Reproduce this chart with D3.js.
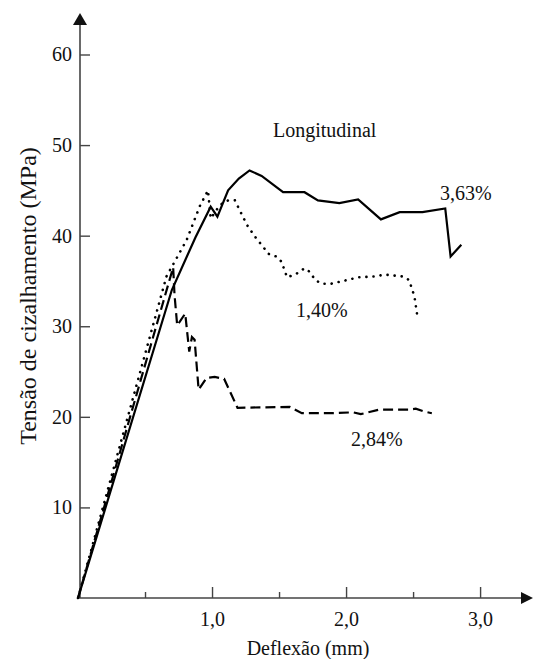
<!DOCTYPE html>
<html>
<head>
<meta charset="utf-8">
<script src="https://cdn.jsdelivr.net/npm/d3@7"></script>
<style>
  body { margin: 0; background: #fff; }
  svg text { font-family: "Times New Roman", Times, "Liberation Serif", Tinos, "Nimbus Roman", "DejaVu Serif", "Noto Serif", serif !important; }
</style>
</head>
<body>
<svg id="chart"></svg>
<script>
// Tick values and labels
const xTicks = [1, 2, 3];
const xTickLabels = ["1,0", "2,0", "3,0"];
const xMinorTicks = [0.5, 1.5, 2.5];
const yTicks = [10, 20, 30, 40, 50, 60];

// 3,63% (solid)
const solidX = [0, 0.70, 0.876, 0.99, 1.04, 1.12, 1.20, 1.28, 1.37, 1.53, 1.69, 1.79, 1.95, 2.09, 2.26, 2.40, 2.57, 2.74, 2.78, 2.86];
const solidY = [0, 34.0, 39.8, 43.2, 42.1, 45.0, 46.3, 47.2, 46.6, 44.8, 44.8, 43.9, 43.6, 44.0, 41.8, 42.6, 42.6, 43.0, 37.7, 39.0];

// 1,40% (dotted)
const dottedX = [0, 0.66, 0.81, 0.91, 0.97, 0.99, 1.06, 1.12, 1.17, 1.20, 1.26, 1.33, 1.38, 1.42, 1.48, 1.52, 1.54, 1.56, 1.63, 1.69, 1.73, 1.77, 1.82, 1.89, 1.95, 2.09, 2.21, 2.29, 2.42, 2.47, 2.49, 2.51, 2.53];
const dottedY = [0, 35.5, 39.5, 43.3, 45.0, 41.9, 43.4, 43.9, 43.9, 43.0, 41.2, 39.7, 38.8, 38.0, 37.7, 37.1, 36.2, 35.4, 35.8, 36.4, 36.0, 35.1, 34.7, 34.7, 34.9, 35.4, 35.5, 35.7, 35.5, 35.1, 34.2, 33.3, 31.3];

// 2,84% (dashed)
const dashedX = [0, 0.71, 0.72, 0.74, 0.80, 0.83, 0.85, 0.87, 0.90, 0.96, 1.02, 1.09, 1.19, 1.58, 1.67, 1.90, 2.05, 2.11, 2.25, 2.47, 2.52, 2.58, 2.64];
const dashedY = [0, 36.5, 33.5, 30.1, 31.4, 27.2, 28.8, 28.5, 23.0, 24.3, 24.4, 24.2, 21.0, 21.1, 20.4, 20.4, 20.5, 20.3, 20.8, 20.8, 20.9, 20.6, 20.4];

const W = 533, H = 659;

const svg = d3.select("#chart")
    .attr("width", W)
    .attr("height", H);

// scales
const x = d3.scaleLinear().domain([0, 3.35]).range([78, 527]);
const y = d3.scaleLinear().domain([0, 60]).range([598, 54.5]);

const axisColor = "#444";

// x axis: major ticks with labels
const xAxis = svg.append("g")
    .attr("transform", `translate(0,${y(0)})`)
    .call(d3.axisBottom(x)
      .tickValues(xTicks)
      .tickSize(-11)
      .tickPadding(14)
      .tickFormat((d, i) => xTickLabels[i]));
xAxis.select(".domain").remove();

// minor ticks
const xMinor = svg.append("g")
    .attr("transform", `translate(0,${y(0)})`)
    .call(d3.axisBottom(x).tickValues(xMinorTicks).tickSize(-6).tickFormat(""));
xMinor.select(".domain").remove();

// y axis
const yAxis = svg.append("g")
    .attr("transform", `translate(${x(0) + 2},0)`)
    .call(d3.axisLeft(y)
      .tickValues(yTicks)
      .tickSize(-10)
      .tickPadding(8));
yAxis.select(".domain").remove();

svg.selectAll("g").attr("font-family", null);
svg.selectAll(".tick line").attr("stroke", axisColor).attr("stroke-width", 1.4);
svg.selectAll(".tick text")
    .style("font-size", "20px")
    .attr("fill", "#111");

// axis lines with arrows
svg.append("line")
    .attr("x1", x(0)).attr("x2", 524)
    .attr("y1", y(0)).attr("y2", y(0))
    .attr("stroke", axisColor).attr("stroke-width", 1.6);
svg.append("path")
    .attr("d", `M533,${y(0)} L521,${y(0) - 6} L521,${y(0) + 6} Z`)
    .attr("fill", "#111");

svg.append("line")
    .attr("x1", x(0) + 2).attr("x2", x(0) + 2)
    .attr("y1", y(0)).attr("y2", 22)
    .attr("stroke", axisColor).attr("stroke-width", 1.6);
svg.append("path")
    .attr("d", `M${x(0) + 2},13 L${x(0) - 5},25 L${x(0) + 9},25 Z`)
    .attr("fill", "#111");

// curves
const line = d3.line()
    .x(d => x(d[0]))
    .y(d => y(d[1]));

const series = [
  { xs: solidX, ys: solidY, dash: null, cap: "butt" },
  { xs: dottedX, ys: dottedY, dash: "0.1,7", cap: "round" },
  { xs: dashedX, ys: dashedY, dash: "10,5", cap: "butt" }
];

series.forEach(s => {
  svg.append("path")
      .datum(s.xs.map((v, i) => [v, s.ys[i]]))
      .attr("d", line)
      .attr("fill", "none")
      .attr("stroke", "#000")
      .attr("stroke-width", s.dash === "0.1,7" ? 2.6 : 2.2)
      .attr("stroke-linejoin", "miter")
      .attr("stroke-linecap", s.cap)
      .attr("stroke-dasharray", s.dash);
});

// annotations
const notes = [
  { t: "Longitudinal", dx: 1.455, dy: 50.9 },
  { t: "3,63%", dx: 2.70, dy: 43.9 },
  { t: "1,40%", dx: 1.627, dy: 31.0 },
  { t: "2,84%", dx: 2.037, dy: 16.8 }
];
svg.selectAll(".note")
    .data(notes)
  .enter().append("text")
    .attr("class", "note")
    .attr("x", d => x(d.dx))
    .attr("y", d => y(d.dy))
    .style("font-size", "20px")
    .attr("fill", "#111")
    .text(d => d.t);

// axis titles
svg.append("text")
    .attr("x", 308)
    .attr("y", 655)
    .attr("text-anchor", "middle")
    .style("font-size", "20px")
    .attr("fill", "#111")
    .text("Deflexão (mm)");

svg.append("text")
    .attr("transform", "translate(36,296) rotate(-90)")
    .attr("text-anchor", "middle")
    .style("font-size", "24px")
    .attr("fill", "#111")
    .text("Tensão de cizalhamento (MPa)");
</script>
</body>
</html>
